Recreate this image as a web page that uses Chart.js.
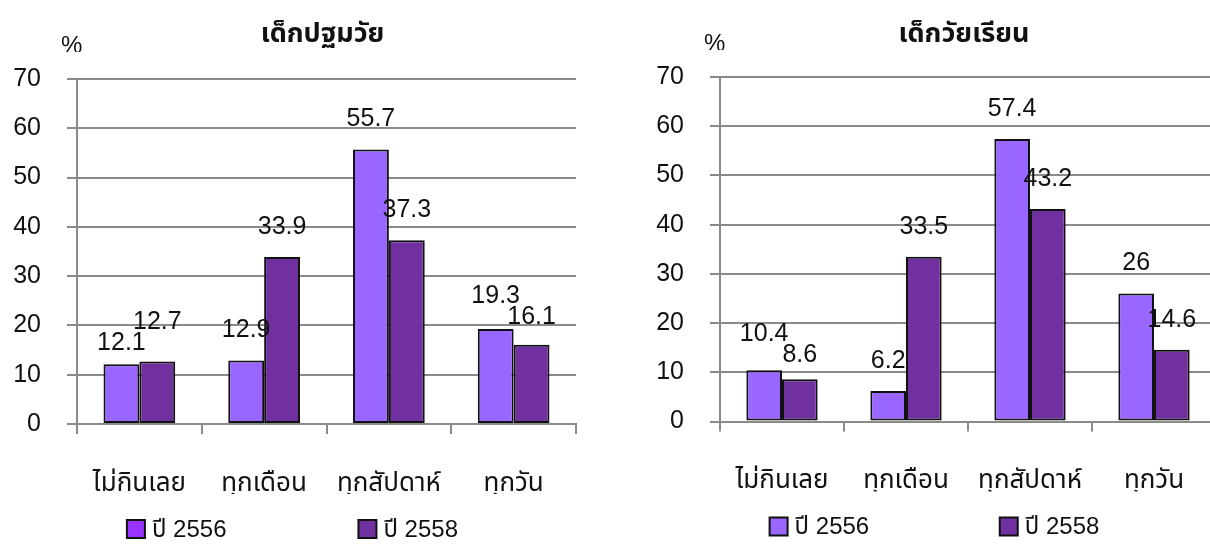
<!DOCTYPE html>
<html>
<head>
<meta charset="utf-8">
<script src="https://cdn.jsdelivr.net/npm/chart.js@4/dist/chart.umd.min.js"></script>
<style>
  html, body { margin:0; padding:0; background:#fff; overflow:hidden; }
  body { width:1210px; height:545px; position:relative; }
  .box { position:absolute; top:0; height:545px; }
  #left { left:0; width:605px; }
  #right { left:605px; width:620px; }
</style>
</head>
<body>
<div class="box" id="left"><canvas id="c1"></canvas></div>
<div class="box" id="right"><canvas id="c2"></canvas></div>
<script>
// data
const categories = ['ไม่กินเลย', 'ทุกเดือน', 'ทุกสัปดาห์', 'ทุกวัน'];
const seriesNames = ['ปี 2556', 'ปี 2558'];
const preschool2556 = [12.1, 12.9, 55.7, 19.3];
const preschool2558 = [12.7, 33.9, 37.3, 16.1];
const school2556 = [10.4, 6.2, 57.4, 26];
const school2558 = [8.6, 33.5, 43.2, 14.6];
const yMax = 70;
const yStep = 10;

const FONT = '"Liberation Sans", "Noto Sans Thai", "Noto Sans", sans-serif';
const GRID = '#8a8a8a';
const C56 = '#9966ff';
const C58 = '#7030a0';

// title, % mark, legend and value labels
const decor = {
  id: 'decor',
  afterDatasetsDraw(chart, args, o){
    const ctx = chart.ctx, a = chart.chartArea;
    ctx.save();
    ctx.fillStyle = '#111';
    ctx.textAlign = 'center'; ctx.textBaseline = 'middle';
    ctx.font = '25px ' + FONT;
    // value labels 30px above bar top; pairs that nearly collide get spread apart
    const m0 = chart.getDatasetMeta(0).data, m1 = chart.getDatasetMeta(1).data;
    const d = chart.data.datasets;
    m0.forEach((b0, j) => {
      const b1 = m1[j];
      let y0 = b0.y - 30, y1 = b1.y - 30;
      if(Math.abs(y0 - y1) < 21){
        const mid = (y0 + y1)/2, s = y0 <= y1 ? -1 : 1;
        y0 = mid + s*10.5; y1 = mid - s*10.5;
      }
      ctx.fillText(String(d[0].data[j]), b0.x, y0);
      ctx.fillText(String(d[1].data[j]), b1.x, y1);
    });
    // title
    ctx.font = 'bold 27px ' + FONT;
    ctx.fillText(o.title, (a.left + a.right)/2 - 4, 35);
    // % mark, cut off at the bottom like the original
    ctx.save();
    ctx.beginPath(); ctx.rect(0, 0, chart.width, a.top - 27); ctx.clip();
    ctx.font = '24px ' + FONT;
    ctx.textAlign = 'left'; ctx.textBaseline = 'top';
    ctx.fillText('%', a.left - 16, a.top - 45);
    ctx.restore();
    // legend
    const pos = [0.1, 0.564];
    const ly = a.bottom + 105;
    ctx.font = '24px ' + FONT;
    ctx.textAlign = 'left'; ctx.textBaseline = 'middle';
    d.forEach((ds, i) => {
      const x = a.left + pos[i]*(a.right - a.left);
      ctx.fillStyle = o.legendColors[i];
      ctx.fillRect(x, ly - 9, 18, 18);
      ctx.lineWidth = 2; ctx.strokeStyle = '#111';
      ctx.strokeRect(x, ly - 9, 18, 18);
      ctx.fillStyle = '#111';
      ctx.fillText(ds.label, x + 25, ly + 1);
    });
    ctx.restore();
  }
};

function makeChart(id, title, d56, d58, pad, legendColors){
  return new Chart(document.getElementById(id), {
    type: 'bar',
    data: {
      labels: categories,
      datasets: [
        { label: seriesNames[0], data: d56, backgroundColor: C56, borderColor: '#111', borderWidth: 2, borderSkipped: false },
        { label: seriesNames[1], data: d58, backgroundColor: C58, borderColor: '#111', borderWidth: 2, borderSkipped: false }
      ]
    },
    options: {
      responsive: true, maintainAspectRatio: false, animation: false,
      events: [],
      layout: { padding: pad },
      datasets: { bar: { categoryPercentage: 0.575, barPercentage: 1.0 } },
      scales: {
        x: {
          afterFit: s => { s.height = 70; },
          grid: { drawOnChartArea: false, drawTicks: true, tickLength: 10, color: GRID, lineWidth: 2 },
          border: { display: true, color: GRID, width: 2 },
          ticks: { color: '#111', font: { family: FONT, size: 26 }, padding: 34, maxRotation: 0 }
        },
        y: {
          min: 0, max: yMax,
          afterFit: s => { s.width = 77; },
          grid: { color: GRID, lineWidth: 2, tickLength: 10 },
          border: { display: true, color: GRID, width: 2 },
          ticks: { stepSize: yStep, color: '#111', font: { family: FONT, size: 25 }, padding: 26 }
        }
      },
      plugins: {
        legend: { display: false },
        tooltip: { enabled: false },
        decor: { title, legendColors }
      }
    },
    plugins: [decor]
  });
}

makeChart('c1', 'เด็กปฐมวัย', preschool2556, preschool2558,
  { left: 0, right: 29, top: 79, bottom: 51 }, ['#9933ff', C58]);
makeChart('c2', 'เด็กวัยเรียน', school2556, school2558,
  { left: 38, right: 9, top: 77, bottom: 53.5 }, [C56, C58]);
</script>
</body>
</html>
